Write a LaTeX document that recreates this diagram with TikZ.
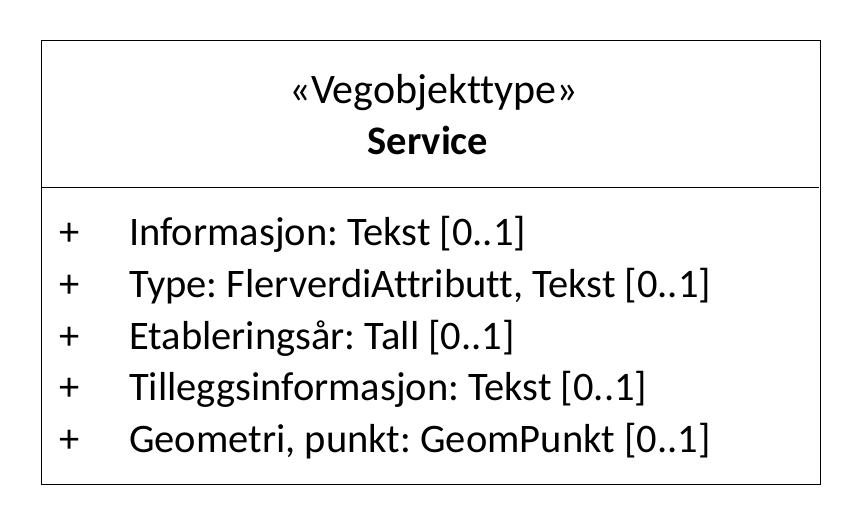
\documentclass[tikz,border=0pt]{standalone}
\usepackage{fontspec}
\setmainfont[Ligatures=NoCommon]{Carlito}
\frenchspacing
\begin{document}
\begin{tikzpicture}[x=1pt,y=-1pt,
  txt/.style={inner sep=0pt,anchor=base,font=\fontsize{40.5}{48}\selectfont},
  attr/.style={txt,anchor=base west},
  vis/.style={txt,anchor=base}]
\useasboundingbox[fill=white] (0,0) rectangle (860,524);
% class box and compartment divider
\node[draw,line width=1pt,minimum width=779pt,minimum height=443pt,inner sep=0pt,anchor=north west] (box) at (40.5,40.5) {};
\coordinate (dl) at (40.5,187.5);
\coordinate (dr) at (818.5,187.5);
\draw[line width=1pt] (dl) -- (dr);
% name compartment
\node[vis,font=\fontsize{42}{48}\selectfont] (stereo) at (434,104) {«Vegobjekttype»};
\node[vis,font=\fontsize{40.5}{48}\selectfont\bfseries] (name) at (428,155) {Service};
% attributes
\foreach \t [count=\i] in {Informasjon: Tekst [0..1],
  {Type: FlerverdiAttributt, Tekst [0..1]},
  Etableringsår: Tall [0..1],
  Tilleggsinformasjon: Tekst [0..1],
  {Geometri, punkt: GeomPunkt [0..1]}}{
  \node[vis] (p\i) at (70,245.5+51.75*\i-51.75) {+};
  \node[attr] (a\i) at (129,245.5+51.75*\i-51.75) {\t};
}
\end{tikzpicture}
\end{document}
